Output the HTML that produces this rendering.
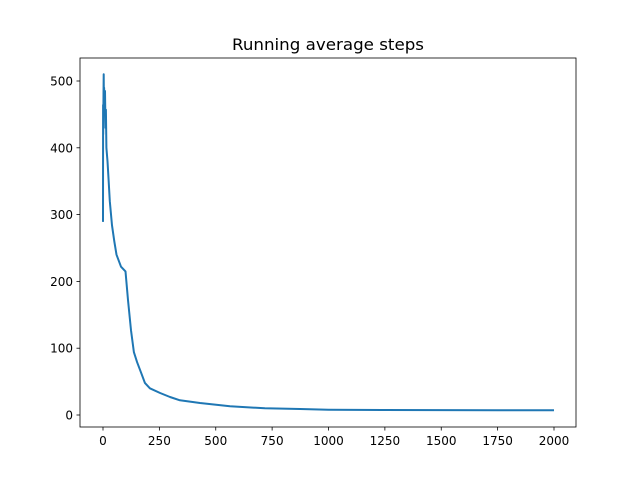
<!DOCTYPE html>
<html><head><meta charset="utf-8"><style>
body{margin:0;background:#fff;}
svg text{font-family:"DejaVu Sans","Liberation Sans",sans-serif;font-size:12px;fill:#000;}
</style></head><body>
<svg width="640" height="480">
<rect x="0" y="0" width="640" height="480" fill="#fff"/>
<text x="328" y="50" text-anchor="middle" textLength="192" lengthAdjust="spacingAndGlyphs" style="font-size:16px">Running average steps</text>
<g id="ticks"></g>
<polyline id="line" fill="none" stroke="#1f77b4" stroke-width="2" stroke-linejoin="round"/>
<rect x="80" y="58" width="496" height="369" fill="none" stroke="#000" stroke-width="0.8"/>
</svg>
<script>
const xs=[0,0.5,1,2,3,4,5,7,9,11,13,15,20,25,30,40,50,60,80,100,111,124,137,151,168,186,208,253,297,341,430,563,718,874,1000,1250,1500,1750,2000];
const ys=[289,464,420,480,510,470,490,455,485,430,457,400,380,352,320,284,260,240,222,215,172,127,94,79,64,48,40,33,27,22,18,13,10,9,8,7.5,7.3,7.2,7.1];
const xTicks=[0,250,500,750,1000,1250,1500,1750,2000];
const yTicks=[0,100,200,300,400,500];
const X=v=>103+v*(451/2000);
const Y=v=>415-v*0.668;
const line=document.getElementById('line');
line.setAttribute('points',xs.map((x,i)=>X(x).toFixed(1)+','+Y(ys[i]).toFixed(1)).join(' '));
const g=document.getElementById('ticks');
const ns='http://www.w3.org/2000/svg';
xTicks.forEach(t=>{
 const l=document.createElementNS(ns,'line');
 l.setAttribute('x1',X(t));l.setAttribute('x2',X(t));l.setAttribute('y1',427);l.setAttribute('y2',430.5);l.setAttribute('stroke','#000');l.setAttribute('stroke-width','0.8');
 
 
 g.appendChild(l);
 const tx=document.createElementNS(ns,'text');
 tx.setAttribute('x',X(t));tx.setAttribute('y',445);tx.setAttribute('text-anchor','middle');tx.textContent=t;
 
 
 g.appendChild(tx);
});
yTicks.forEach(t=>{
 const l=document.createElementNS(ns,'line');
 l.setAttribute('x1',76.5);l.setAttribute('x2',80);l.setAttribute('y1',Y(t));l.setAttribute('y2',Y(t));l.setAttribute('stroke','#000');l.setAttribute('stroke-width','0.8');
 
 
 g.appendChild(l);
 const tx=document.createElementNS(ns,'text');
 tx.setAttribute('x',73);tx.setAttribute('y',Y(t)+4.5);tx.setAttribute('text-anchor','end');tx.textContent=t;
 
 
 g.appendChild(tx);
});
</script>
</body></html>
